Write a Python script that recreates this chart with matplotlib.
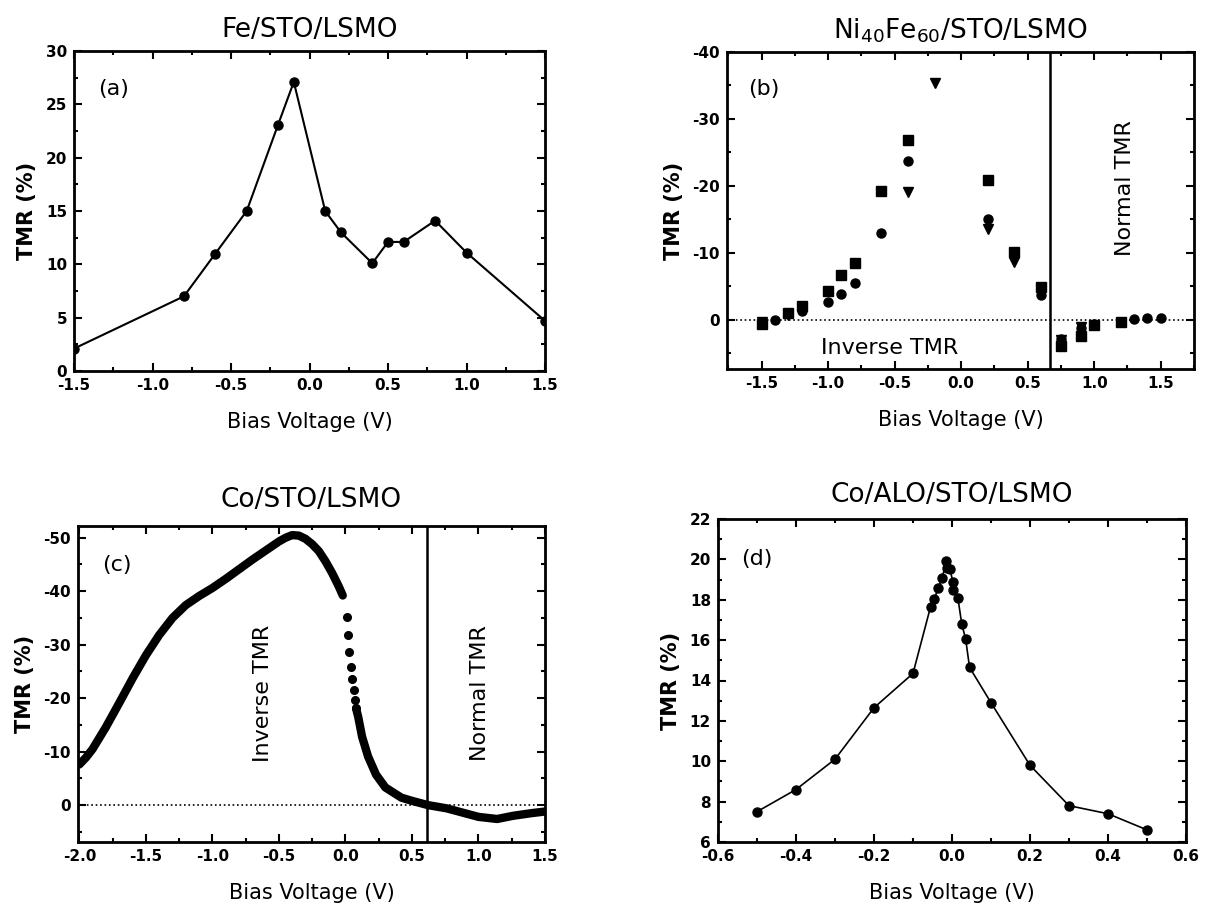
import matplotlib
matplotlib.use("Agg")
import matplotlib.pyplot as plt
from matplotlib.ticker import MultipleLocator, FormatStrFormatter

plt.rcParams['font.family'] = ['DejaVu Sans']
plt.rcParams['axes.unicode_minus'] = False

# (a) Fe/STO/LSMO
fe_v = [-1.5, -0.8, -0.6, -0.4, -0.2, -0.1, 0.1, 0.2, 0.4, 0.5, 0.6, 0.8, 1.0, 1.5]
fe_tmr = [2.1, 7.0, 11.0, 15.0, 23.1, 27.1, 15.0, 13.0, 10.1, 12.1, 12.1, 14.1, 11.1, 4.7]

# (b) Ni40Fe60/STO/LSMO  (three samples)
nife_sq_v = [-1.5, -1.3, -1.2, -1.0, -0.9, -0.8, -0.6, -0.4, 0.2, 0.4, 0.6, 0.75, 0.9, 1.0, 1.2]
nife_sq = [0.7, -0.9, -2.0, -4.2, -6.6, -8.5, -19.2, -26.8, -20.8, -10.1, -4.9, 3.9, 2.4, 0.8, 0.3]
nife_ci_v = [-1.4, -1.2, -1.0, -0.9, -0.8, -0.6, -0.4, 0.2, 0.6, 0.75, 0.9, 1.0, 1.3, 1.4, 1.5]
nife_ci = [0.0, -1.3, -2.6, -3.8, -5.4, -13.0, -23.7, -15.0, -3.7, 2.9, 1.2, 0.6, -0.1, -0.3, -0.2]
nife_tr_v = [-1.5, -1.3, -0.4, -0.2, 0.2, 0.4, 0.6, 0.75, 0.9]
nife_tr = [0.4, -0.6, -19.1, -35.4, -13.6, -8.6, -4.3, 3.0, 1.1]

# (c) Co/STO/LSMO
co_left_v = [-2.0, -1.95, -1.9, -1.8, -1.7, -1.6, -1.5, -1.4, -1.3, -1.2, -1.1, -1.0,
             -0.9, -0.8, -0.7, -0.6, -0.5, -0.45, -0.4, -0.35, -0.3, -0.25, -0.2,
             -0.15, -0.1, -0.05, -0.02]
co_left = [-7.6, -8.9, -10.5, -14.6, -19.1, -23.7, -28.0, -31.8, -35.0, -37.4, -39.1, -40.6,
           -42.3, -44.1, -45.9, -47.6, -49.3, -50.0, -50.5, -50.4, -49.8, -48.8, -47.5,
           -45.6, -43.4, -40.9, -39.2]
co_jump_v = [0.01, 0.02, 0.03, 0.045, 0.05, 0.065, 0.07, 0.08]
co_jump = [-35.2, -31.8, -28.7, -25.9, -23.6, -21.5, -19.6, -18.1]
co_right_v = [0.08, 0.096, 0.125, 0.17, 0.23, 0.30, 0.42, 0.5, 0.62, 0.76, 0.88, 1.0,
              1.14, 1.26, 1.4, 1.5]
co_right = [-18.1, -16.5, -12.8, -9.1, -5.7, -3.3, -1.4, -0.8, 0.0, 0.6, 1.4, 2.2,
            2.6, 2.0, 1.5, 1.2]

# (d) Co/ALO/STO/LSMO
coal_v = [-0.5, -0.4, -0.3, -0.2, -0.1, -0.055, -0.045, -0.035, -0.025, -0.015, -0.012,
          -0.005, 0.002, 0.003, 0.015, 0.025, 0.035, 0.045, 0.1, 0.2, 0.3, 0.4, 0.5]
coal_tmr = [7.5, 8.6, 10.1, 12.65, 14.35, 17.65, 18.05, 18.6, 19.1, 19.9, 19.55,
            19.5, 18.9, 18.5, 18.1, 16.8, 16.05, 14.65, 12.9, 9.8, 7.8, 7.4, 6.6]

W, H = 1206, 911


def rect(l, t, r, b):
    return [l / W, 1 - b / H, (r - l) / W, (b - t) / H]


def style(ax, xmaj, xmin, ymaj, ymin):
    ax.xaxis.set_major_locator(MultipleLocator(xmaj))
    ax.xaxis.set_minor_locator(MultipleLocator(xmin))
    ax.yaxis.set_major_locator(MultipleLocator(ymaj))
    ax.yaxis.set_minor_locator(MultipleLocator(ymin))
    ax.xaxis.set_major_formatter(FormatStrFormatter('%.1f'))
    ax.yaxis.set_major_formatter(FormatStrFormatter('%d'))
    ax.tick_params(which='both', direction='in', top=True, right=True, width=1.5)
    ax.tick_params(which='major', length=6, labelsize=11, pad=5)
    ax.tick_params(which='minor', length=3)
    for lab in ax.get_xticklabels() + ax.get_yticklabels():
        lab.set_fontweight('bold')
    for sp in ax.spines.values():
        sp.set_linewidth(2)
    ax.set_xlabel("Bias Voltage (V)", fontsize=15, labelpad=14)
    ax.set_ylabel("TMR (%)", fontsize=15, fontweight='bold', labelpad=6)


fig = plt.figure(figsize=(W / 100, H / 100), dpi=100)

# (a)
ax = fig.add_axes(rect(74, 51, 545, 371))
ax.plot(fe_v, fe_tmr, '-o', color='black', lw=1.5, ms=6.5)
ax.set_xlim(-1.5, 1.5)
ax.set_ylim(0, 30)
style(ax, 0.5, 0.25, 5, 2.5)
ax.set_title("Fe/STO/LSMO", fontsize=19, pad=10)
ax.text(-1.25, 26.4, "(a)", fontsize=16, ha='center', va='center')

# (b)
ax = fig.add_axes(rect(727, 52, 1194, 369))
ax.axhline(0, color='black', lw=1.2, ls=':')
ax.axvline(0.67, color='black', lw=1.8)
ax.plot(nife_sq_v, nife_sq, 's', color='black', ms=6.5)
ax.plot(nife_ci_v, nife_ci, 'o', color='black', ms=6.5)
ax.plot(nife_tr_v, nife_tr, 'v', color='black', ms=7.5)
ax.set_xlim(-1.76, 1.75)
ax.set_ylim(7.4, -40)
style(ax, 0.5, 0.25, 10, 5)
ax.set_title(r"Ni$_{\mathregular{40}}$Fe$_{\mathregular{60}}$/STO/LSMO", fontsize=19, pad=10)
ax.text(-1.48, -34.5, "(b)", fontsize=16, ha='center', va='center')
ax.text(-0.54, 4.3, "Inverse TMR", fontsize=16, ha='center', va='center')
ax.text(1.23, -19.6, "Normal TMR", fontsize=16, ha='center', va='center', rotation=90)

# (c)
ax = fig.add_axes(rect(78, 526, 545, 842))
ax.axhline(0, color='black', lw=1.2, ls=':')
ax.axvline(0.61, color='black', lw=1.8)
ax.plot(co_left_v, co_left, '-', color='black', lw=6, solid_capstyle='round')
ax.plot(co_jump_v, co_jump, 'o', color='black', ms=5.5)
ax.plot(co_right_v, co_right, '-', color='black', lw=6, solid_capstyle='round')
ax.set_xlim(-2.01, 1.5)
ax.set_ylim(6.9, -52.2)
style(ax, 0.5, 0.25, 10, 5)
ax.set_title("Co/STO/LSMO", fontsize=19, pad=14)
ax.text(-1.72, -44.9, "(c)", fontsize=16, ha='center', va='center')
ax.text(-0.62, -20.9, "Inverse TMR", fontsize=16, ha='center', va='center', rotation=90)
ax.text(1.01, -20.9, "Normal TMR", fontsize=16, ha='center', va='center', rotation=90)

# (d)
ax = fig.add_axes(rect(718, 519, 1186, 842))
ax.plot(coal_v, coal_tmr, '-o', color='black', lw=1.2, ms=6.5)
ax.set_xlim(-0.6, 0.6)
ax.set_ylim(6, 22)
style(ax, 0.2, 0.1, 2, 1)
ax.set_title("Co/ALO/STO/LSMO", fontsize=19, pad=12)
ax.text(-0.50, 20.0, "(d)", fontsize=16, ha='center', va='center')

fig.savefig("out.png", dpi=100)
